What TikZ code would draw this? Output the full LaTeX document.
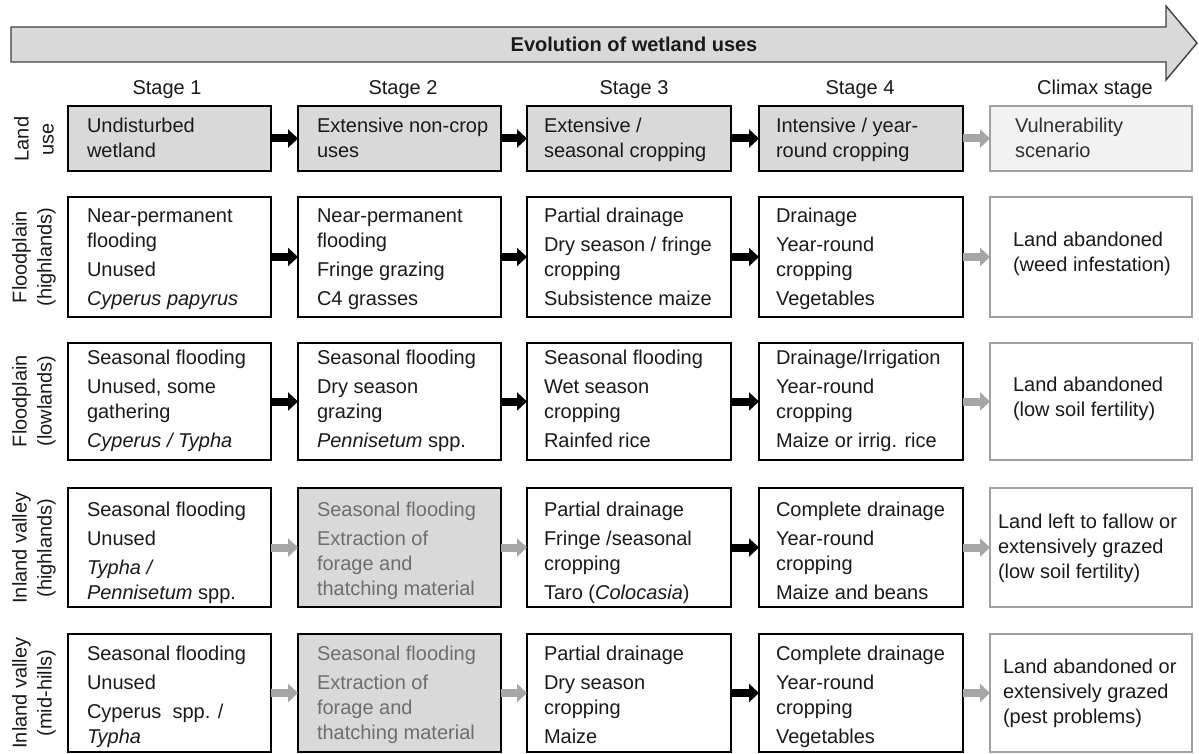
\documentclass[tikz,border=0pt]{standalone}
\usepackage{fontspec}
\setmainfont{Liberation Sans}
\usetikzlibrary{fit,calc,arrows.meta}
\definecolor{boxgray}{HTML}{D9D9D9}
\definecolor{lightfill}{HTML}{F2F2F2}
\definecolor{climaxborder}{HTML}{A0A0A0}
\definecolor{grayarrow}{HTML}{A6A6A6}
\definecolor{graytext}{HTML}{6E6E6E}
\definecolor{bigborder}{HTML}{404040}
\definecolor{darktext}{HTML}{1A1A1A}
\definecolor{climaxtext}{HTML}{303030}
\tikzset{
  x=1pt, y=-1pt,
  basebox/.style={rectangle, inner sep=0pt, outer sep=0pt, line width=1.6pt},
  whitebox/.style={basebox, draw=black, fill=white},
  graybox/.style={basebox, draw=black, fill=boxgray},
  climaxbox/.style={basebox, draw=climaxborder, fill=white},
  climaxgray/.style={basebox, draw=climaxborder, fill=lightfill},
  txt/.style={inner sep=0pt, outer sep=0pt, align=left, anchor=north west,
    font=\fontsize{20}{25}\selectfont, text=darktext},
  ctxt/.style={inner sep=0pt, outer sep=0pt, align=left, anchor=west,
    font=\fontsize{20}{25}\selectfont, text=darktext},
  gtxt/.style={txt, text=graytext},
  rowlabel/.style={inner sep=0pt, rotate=90, align=center,
    font=\fontsize{20}{25}\selectfont, text=darktext},
  stagelabel/.style={inner sep=0pt, anchor=base, font=\fontsize{20}{24}\selectfont, text=darktext},
  blkarrow/.style={line width=8pt, draw=black, -{Triangle[length=10pt,width=18pt]}},
  gryarrow/.style={line width=8pt, draw=grayarrow, -{Triangle[length=10pt,width=18pt]}},
}
\newcommand\fs{\rule{0pt}{16pt}}
\begin{document}
\begin{tikzpicture}
\useasboundingbox (0,0) rectangle (1199,754);
% big arrow
\draw[line width=1.4pt, draw=bigborder, fill=boxgray, line join=miter]
  (11,27) -- (1166,27) -- (1166,6) -- (1197,43) -- (1166,80) -- (1166,62) -- (11,62) -- cycle;
\node[inner sep=0pt, anchor=base, font=\fontsize{20}{24}\selectfont\bfseries, text=darktext] (title) at (634,52) {Evolution of wetland uses};
% stage labels
\node[stagelabel] (s1) at (167,95) {Stage 1};
\node[stagelabel] (s2) at (403,95) {Stage 2};
\node[stagelabel] (s3) at (634,95) {Stage 3};
\node[stagelabel] (s4) at (860,95) {Stage 4};
\node[stagelabel] (s5) at (1095,95) {Climax stage};
% row labels
\node[rowlabel] (l0) at (34,139) {Land\\use};
\node[rowlabel] (l1) at (34,257) {Floodplain\\(highlands)};
\node[rowlabel] (l2) at (34,401) {Floodplain\\(lowlands)};
\node[rowlabel] (l3) at (34,548) {Inland valley\\(highlands)};
\node[rowlabel] (l4) at (34,693) {Inland valley\\(mid-hills)};
% ---- row 0
\node[graybox, fit={(68,106) (271,171)}] (r0c1) {};
\node[graybox, fit={(298,106) (501,171)}] (r0c2) {};
\node[graybox, fit={(527,106) (731,171)}] (r0c3) {};
\node[graybox, fit={(759,106) (963,171)}] (r0c4) {};
\node[climaxgray, fit={(990,106) (1192,171)}] (r0c5) {};
\node[txt] (t01) at ($(r0c1.north west)+(19,11)$) {\fs Undisturbed\\wetland};
\node[txt] (t02) at ($(r0c2.north west)+(19,11)$) {\fs Extensive non-crop\\uses};
\node[txt] (t03) at ($(r0c3.north west)+(17,11)$) {\fs Extensive /\\seasonal cropping};
\node[txt] (t04) at ($(r0c4.north west)+(17,11)$) {\fs Intensive / year-\\round cropping};
\node[txt, text=climaxtext] (t05) at ($(r0c5.north west)+(25,11)$) {\fs Vulnerability\\scenario};
% ---- row 1
\node[whitebox, fit={(68,197) (271,317)}] (r1c1) {};
\node[whitebox, fit={(298,197) (501,317)}] (r1c2) {};
\node[whitebox, fit={(527,197) (731,317)}] (r1c3) {};
\node[whitebox, fit={(759,197) (963,317)}] (r1c4) {};
\node[climaxbox, fit={(990,197) (1192,317)}] (r1c5) {};
\node[txt] (t11) at ($(r1c1.north west)+(19,9)$) {\fs Near-permanent\\flooding\\[4pt]Unused\\[4pt]\textit{Cyperus papyrus}};
\node[txt] (t12) at ($(r1c2.north west)+(19,9)$) {\fs Near-permanent\\flooding\\[4pt]Fringe grazing\\[4pt]C4 grasses};
\node[txt] (t13) at ($(r1c3.north west)+(17,9)$) {\fs Partial drainage\\[4pt]Dry season / fringe\\cropping\\[4pt]Subsistence maize};
\node[txt] (t14) at ($(r1c4.north west)+(17,9)$) {\fs Drainage\\[4pt]Year-round\\cropping\\[4pt]Vegetables};
\node[ctxt] (t15) at ($(r1c5.west)+(23,-3)$) {Land abandoned\\(weed infestation)};
% ---- row 2
\node[whitebox, fit={(68,343) (271,460)}] (r2c1) {};
\node[whitebox, fit={(298,343) (501,460)}] (r2c2) {};
\node[whitebox, fit={(527,343) (731,460)}] (r2c3) {};
\node[whitebox, fit={(759,343) (963,460)}] (r2c4) {};
\node[climaxbox, fit={(990,343) (1192,460)}] (r2c5) {};
\node[txt] (t21) at ($(r2c1.north west)+(19,5)$) {\fs Seasonal flooding\\[4pt]Unused, some\\gathering\\[4pt]\textit{Cyperus / Typha}};
\node[txt] (t22) at ($(r2c2.north west)+(19,5)$) {\fs Seasonal flooding\\[4pt]Dry season\\grazing\\[4pt]\textit{Pennisetum} spp.};
\node[txt] (t23) at ($(r2c3.north west)+(17,5)$) {\fs Seasonal flooding\\[4pt]Wet season\\cropping\\[4pt]Rainfed rice};
\node[txt] (t24) at ($(r2c4.north west)+(17,5)$) {\fs Drainage/Irrigation\\[4pt]Year-round\\cropping\\[4pt]Maize or irrig. rice};
\node[ctxt] (t25) at ($(r2c5.west)+(23,-3)$) {Land abandoned\\(low soil fertility)};
% ---- row 3
\node[whitebox, fit={(68,488) (271,607)}] (r3c1) {};
\node[graybox, fit={(298,488) (501,607)}] (r3c2) {};
\node[whitebox, fit={(527,488) (731,607)}] (r3c3) {};
\node[whitebox, fit={(759,488) (963,607)}] (r3c4) {};
\node[climaxbox, fit={(990,488) (1192,607)}] (r3c5) {};
\node[txt] (t31) at ($(r3c1.north west)+(19,12)$) {\fs Seasonal flooding\\[4pt]Unused\\[4pt]\textit{Typha /}\\\textit{Pennisetum} spp.};
\node[gtxt] (t32) at ($(r3c2.north west)+(19,12)$) {\fs Seasonal flooding\\[4pt]Extraction of\\forage and\\thatching material};
\node[txt] (t33) at ($(r3c3.north west)+(17,12)$) {\fs Partial drainage\\[4pt]Fringe /seasonal\\cropping\\[4pt]Taro (\textit{Colocasia})};
\node[txt] (t34) at ($(r3c4.north west)+(17,12)$) {\fs Complete drainage\\[4pt]Year-round\\cropping\\[4pt]Maize and beans};
\node[ctxt] (t35) at ($(r3c5.west)+(8,1)$) {Land left to fallow or\\extensively grazed\\(low soil fertility)};
% ---- row 4
\node[whitebox, fit={(68,634) (271,752)}] (r4c1) {};
\node[graybox, fit={(298,634) (501,752)}] (r4c2) {};
\node[whitebox, fit={(527,634) (731,752)}] (r4c3) {};
\node[whitebox, fit={(759,634) (963,752)}] (r4c4) {};
\node[climaxbox, fit={(990,634) (1192,752)}] (r4c5) {};
\node[txt] (t41) at ($(r4c1.north west)+(19,10)$) {\fs Seasonal flooding\\[4pt]Unused\\[4pt]Cyperus\ \ spp. /\\\textit{Typha}};
\node[gtxt] (t42) at ($(r4c2.north west)+(19,10)$) {\fs Seasonal flooding\\[4pt]Extraction of\\forage and\\thatching material};
\node[txt] (t43) at ($(r4c3.north west)+(17,10)$) {\fs Partial drainage\\[4pt]Dry season\\cropping\\[4pt]Maize};
\node[txt] (t44) at ($(r4c4.north west)+(17,10)$) {\fs Complete drainage\\[4pt]Year-round\\cropping\\[4pt]Vegetables};
\node[ctxt] (t45) at ($(r4c5.west)+(13,0)$) {Land abandoned or\\extensively grazed\\(pest problems)};
% ---- arrows
\draw[blkarrow] (r0c1.east) -- (r0c2.west);
\draw[blkarrow] (r0c2.east) -- (r0c3.west);
\draw[blkarrow] (r0c3.east) -- (r0c4.west);
\draw[gryarrow] (r0c4.east) -- (r0c5.west);
\draw[blkarrow] (r1c1.east) -- (r1c2.west);
\draw[blkarrow] (r1c2.east) -- (r1c3.west);
\draw[blkarrow] (r1c3.east) -- (r1c4.west);
\draw[gryarrow] (r1c4.east) -- (r1c5.west);
\draw[blkarrow] (r2c1.east) -- (r2c2.west);
\draw[blkarrow] (r2c2.east) -- (r2c3.west);
\draw[blkarrow] (r2c3.east) -- (r2c4.west);
\draw[gryarrow] (r2c4.east) -- (r2c5.west);
\draw[gryarrow] (r3c1.east) -- (r3c2.west);
\draw[gryarrow] (r3c2.east) -- (r3c3.west);
\draw[blkarrow] (r3c3.east) -- (r3c4.west);
\draw[gryarrow] (r3c4.east) -- (r3c5.west);
\draw[gryarrow] (r4c1.east) -- (r4c2.west);
\draw[gryarrow] (r4c2.east) -- (r4c3.west);
\draw[blkarrow] (r4c3.east) -- (r4c4.west);
\draw[gryarrow] (r4c4.east) -- (r4c5.west);
\end{tikzpicture}
\end{document}
